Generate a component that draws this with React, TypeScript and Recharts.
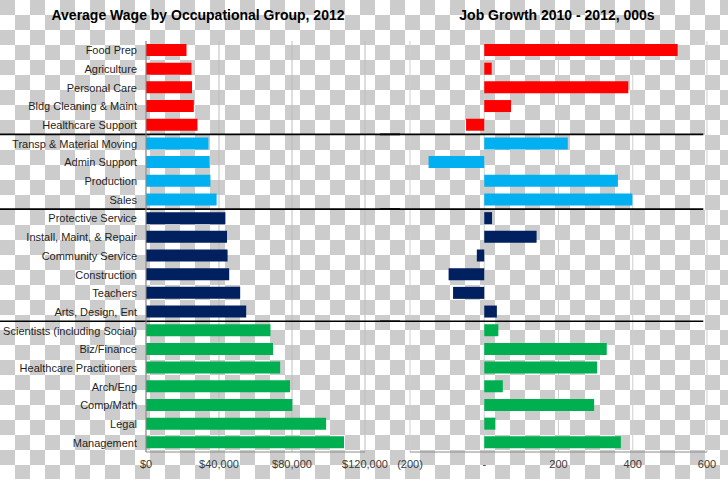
import {
  Bar,
  BarChart,
  CartesianGrid,
  Cell,
  ReferenceLine,
  XAxis,
  YAxis
} from "recharts";

const categories = [
  "Food Prep",
  "Agriculture",
  "Personal Care",
  "Bldg Cleaning & Maint",
  "Healthcare Support",
  "Transp & Material Moving",
  "Admin Support",
  "Production",
  "Sales",
  "Protective Service",
  "Install, Maint, & Repair",
  "Community Service",
  "Construction",
  "Teachers",
  "Arts, Design, Ent",
  "Scientists (including Social)",
  "Biz/Finance",
  "Healthcare Practitioners",
  "Arch/Eng",
  "Comp/Math",
  "Legal",
  "Management"
];

// average wage 2012, dollars
const wages = [
  22200, 24900, 25200, 26200, 28200, 34200, 34900, 35300, 38700, 43500, 44400,
  44700, 45600, 51600, 54900, 68200, 69600, 73500, 78900, 80200, 98700, 108500
];

// job growth 2010-2012, thousands
const growth = [
  521, 20, 388, 72, -49, 225, -150, 360, 399, 21, 141, -20, -96, -84, 34, 38,
  330, 304, 50, 296, 30, 368
];

const groups = [0, 0, 0, 0, 0, 1, 1, 1, 1, 2, 2, 2, 2, 2, 2, 3, 3, 3, 3, 3, 3, 3];
const groupColors = ["#FF0000", "#00B0F0", "#002060", "#00B050"];

const wageTicks = [0, 40000, 80000, 120000];
const growthTicks = [-200, 0, 200, 400, 600];

const rows = categories.map((name, idx) => ({
  idx,
  name,
  wage: wages[idx],
  growth: growth[idx],
  group: groups[idx]
}));

// separators sit between rows where the group changes
const separators = groups
  .map((g, i) => (i > 0 && g !== groups[i - 1] ? i - 0.5 : null))
  .filter((v): v is number => v !== null);

const font = "'Liberation Sans', Arial, sans-serif";
const tickStyle = { fill: "#3a3a3a", fontSize: 11, fontFamily: font };

const fmtWage = (v: number) => "$" + v.toLocaleString("en-US");
const fmtGrowth = (v: number) => (v < 0 ? `(${Math.abs(v)})` : v === 0 ? "-" : String(v));

// plain one-line category label, right aligned against the axis
const CategoryTick = (props: any) => {
  const { x, y, payload } = props;
  return (
    <text
      x={x - 1}
      y={y}
      dy={4}
      textAnchor="end"
      fill="#1f1f1f"
      fontSize={11}
      fontFamily={font}
    >
      {categories[payload.value]}
    </text>
  );
};

const titleStyle: React.CSSProperties = {
  position: "absolute",
  top: 7,
  fontFamily: font,
  fontWeight: "bold",
  fontSize: 14,
  color: "#000",
  textAlign: "center",
  whiteSpace: "nowrap"
};

export default function App() {
  return (
    <div
      style={{
        position: "absolute",
        left: 0,
        top: 0,
        width: 728,
        height: 479,
        overflow: "hidden",
        backgroundColor: "#fff",
        backgroundImage:
          "conic-gradient(#fff 25%, #cccccc 0 50%, #fff 0 75%, #cccccc 0)",
        backgroundSize: "30px 30px"
      }}
    >
      <div style={{ ...titleStyle, left: 0, width: 396 }}>
        Average Wage by Occupational Group, 2012
      </div>
      <div style={{ ...titleStyle, left: 400, width: 314 }}>
        Job Growth 2010 - 2012, 000s
      </div>

      <div style={{ position: "absolute", left: 0, top: 0 }}>
        <BarChart
          width={400}
          height={479}
          data={rows}
          layout="vertical"
          margin={{ top: 41, right: 35, bottom: 0, left: 0 }}
        >
          <CartesianGrid horizontal={false} stroke="#bdbdbd" />
          <XAxis
            type="number"
            dataKey="wage"
            domain={[0, 120000]}
            ticks={wageTicks}
            tickFormatter={fmtWage}
            tick={tickStyle}
            tickLine={false}
            axisLine={{ stroke: "#8c8c8c" }}
            height={27}
          />
          <YAxis
            type="number"
            dataKey="idx"
            domain={[-0.5, 21.5]}
            ticks={rows.map((r) => r.idx)}
            interval={0}
            width={146}
            tick={<CategoryTick />}
            tickLine={false}
            axisLine={{ stroke: "#8c8c8c" }}
          />
          <Bar dataKey="wage" barSize={12} isAnimationActive={false}>
            {rows.map((r) => (
              <Cell key={r.name} fill={groupColors[r.group]} />
            ))}
          </Bar>
          {separators.map((s) => (
            <ReferenceLine
              key={s}
              segment={[
                { x: -90000, y: s },
                { x: 160000, y: s }
              ]}
              stroke="#000"
              strokeWidth={1.6}
              ifOverflow="visible"
            />
          ))}
        </BarChart>
      </div>

      <div style={{ position: "absolute", left: 380, top: 0 }}>
        <BarChart
          width={348}
          height={479}
          data={rows}
          layout="vertical"
          margin={{ top: 41, right: 21, bottom: 0, left: 30 }}
        >
          <CartesianGrid horizontal={false} stroke="#cfcfcf" />
          <XAxis
            type="number"
            dataKey="growth"
            domain={[-200, 600]}
            ticks={growthTicks}
            tickFormatter={fmtGrowth}
            tick={tickStyle}
            tickLine={false}
            axisLine={{ stroke: "#8c8c8c" }}
            height={27}
          />
          <YAxis
            type="number"
            dataKey="idx"
            domain={[-0.5, 21.5]}
            ticks={rows.map((r) => r.idx)}
            hide
          />
          <Bar dataKey="growth" barSize={12} isAnimationActive={false}>
            {rows.map((r) => (
              <Cell key={r.name} fill={groupColors[r.group]} />
            ))}
          </Bar>
          {separators.map((s) => (
            <ReferenceLine
              key={s}
              segment={[
                { x: -400, y: s },
                { x: 590, y: s }
              ]}
              stroke="#000"
              strokeWidth={1.6}
              ifOverflow="visible"
            />
          ))}
        </BarChart>
      </div>
    </div>
  );
}
